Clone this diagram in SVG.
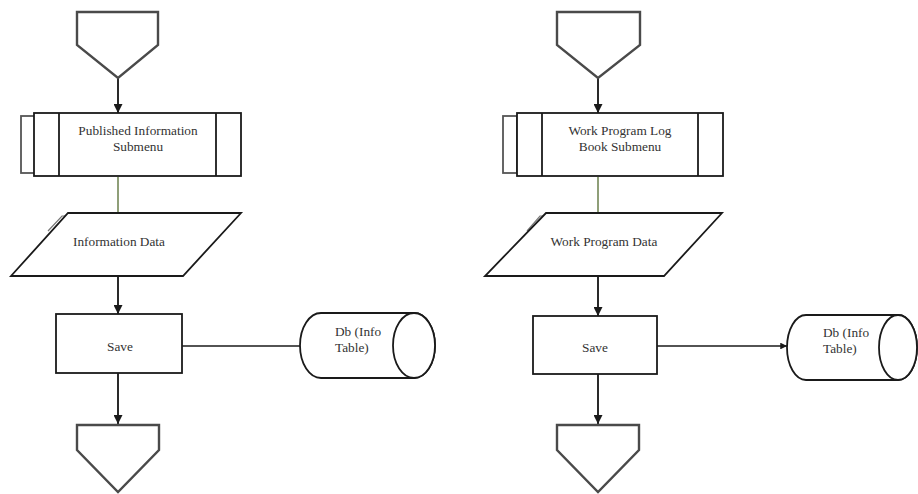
<svg xmlns="http://www.w3.org/2000/svg" width="918" height="494" viewBox="0 0 918 494">
<defs>
<style>
.shape{fill:#fff;stroke:#1a1a1a;stroke-width:1.8}
.off{fill:#fff;stroke:#4a4a4a;stroke-width:2.4;stroke-linejoin:miter}
.tab{fill:#fff;stroke:#555;stroke-width:1.8}
.line{fill:none;stroke:#2a2a2a;stroke-width:2}
.thin{fill:none;stroke:#1a1a1a;stroke-width:1.5}
.green{fill:none;stroke:#8f9f78;stroke-width:2}
text{font-family:"Liberation Serif",serif;font-size:13.3px;fill:#333}
.c{text-anchor:middle}
</style>
<marker id="ah" viewBox="0 0 10 10" refX="10" refY="5" markerWidth="4.5" markerHeight="4.5" orient="auto" markerUnits="strokeWidth">
<path d="M0,0 L10,5 L0,10 z" fill="#1a1a1a"/>
</marker>
</defs>
<rect width="918" height="494" fill="#fff"/>

<g id="connectors">
<line class="line" x1="118" y1="78" x2="118" y2="113" marker-end="url(#ah)"/>
<line class="green" x1="118" y1="177" x2="118" y2="213"/>
<line class="line" x1="118" y1="276" x2="118" y2="314" marker-end="url(#ah)"/>
<line class="line" x1="118" y1="373" x2="118" y2="424" marker-end="url(#ah)"/>
<line class="thin" x1="182" y1="346" x2="300" y2="346"/>
<line class="line" x1="598" y1="78" x2="598" y2="113" marker-end="url(#ah)"/>
<line class="green" x1="598" y1="177" x2="598" y2="213"/>
<line class="line" x1="598" y1="276" x2="598" y2="316" marker-end="url(#ah)"/>
<line class="line" x1="598" y1="374" x2="598" y2="424" marker-end="url(#ah)"/>
<line class="thin" x1="657" y1="346" x2="787" y2="346" marker-end="url(#ah)"/>
</g>

<g id="start-left">
<polygon class="off" points="77,12 158,12 158,45 118,78 77,45"/>
</g>
<g id="submenu-left">
<rect class="tab" x="21" y="116" width="14" height="57"/>
<rect class="shape" x="34" y="113" width="207" height="63"/>
<line class="shape" x1="59" y1="113" x2="59" y2="176"/>
<line class="shape" x1="216" y1="113" x2="216" y2="176"/>
<text class="c" x="138" y="135">Published Information</text>
<text class="c" x="138" y="151">Submenu</text>
</g>
<g id="data-left">
<polyline fill="none" stroke="#777" stroke-width="1.2" points="48,231 62,216 66,216"/>
<polygon class="shape" points="68,213 241,213 183,276 11,276"/>
<text class="c" x="119" y="246">Information Data</text>
</g>
<g id="save-left">
<rect class="shape" x="56" y="314" width="126" height="59"/>
<text class="c" x="120" y="351">Save</text>
</g>
<g id="db-left">
<path class="shape" d="M321,313 L414,313 A21,32.5 0 0 1 414,378 L321,378 A21,32.5 0 0 1 321,313 Z"/>
<ellipse class="shape" cx="414" cy="345.5" rx="21" ry="32.5"/>
<text x="335" y="336">Db (Info</text>
<text x="335" y="352">Table)</text>
</g>
<g id="end-left">
<polygon class="off" points="77,425 159,425 159,450 118,492 77,450"/>
</g>

<g id="start-right">
<polygon class="off" points="557,12 640,12 640,45 598,78 557,45"/>
</g>
<g id="submenu-right">
<rect class="tab" x="503" y="116" width="14" height="57"/>
<rect class="shape" x="517" y="113" width="206" height="63"/>
<line class="shape" x1="542" y1="113" x2="542" y2="176"/>
<line class="shape" x1="698" y1="113" x2="698" y2="176"/>
<text class="c" x="620" y="135">Work Program Log</text>
<text class="c" x="620" y="151">Book Submenu</text>
</g>
<g id="data-right">
<polyline fill="none" stroke="#777" stroke-width="1.2" points="527,231 540,216 544,216"/>
<polygon class="shape" points="546,213 722,213 664,276 485,276"/>
<text class="c" x="604" y="246">Work Program Data</text>
</g>
<g id="save-right">
<rect class="shape" x="533" y="316" width="124" height="58"/>
<text class="c" x="595" y="352">Save</text>
</g>
<g id="db-right">
<path class="shape" d="M806,315 L898,315 A19,32.5 0 0 1 898,380 L806,380 A19,32.5 0 0 1 806,315 Z"/>
<ellipse class="shape" cx="898" cy="347.5" rx="19" ry="32.5"/>
<text x="823" y="337">Db (Info</text>
<text x="823" y="353">Table)</text>
</g>
<g id="end-right">
<polygon class="off" points="557,425 639,425 639,450 598,492 557,450"/>
</g>
</svg>
